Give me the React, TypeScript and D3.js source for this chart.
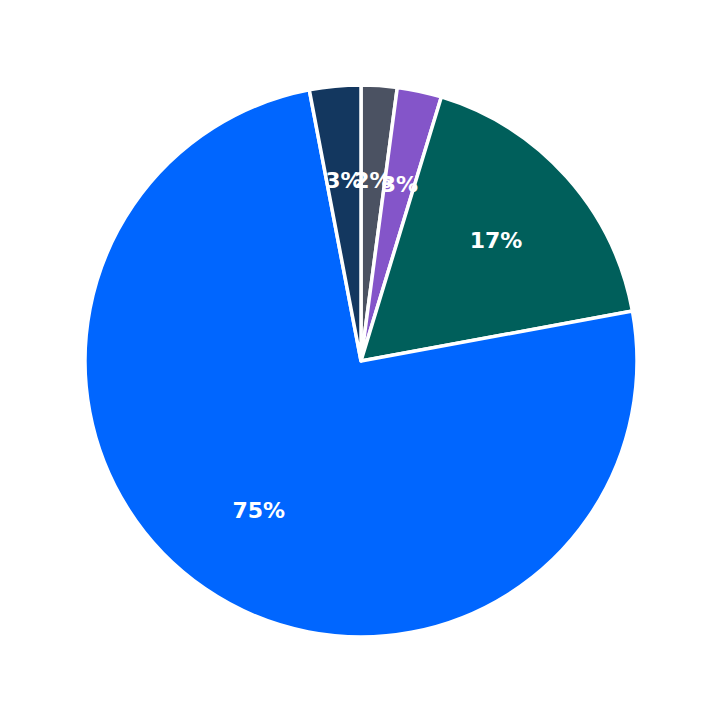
import React from 'react';
import { arc, pie, PieArcDatum } from 'd3';

const categories = ['Gray', 'Purple', 'Teal', 'Blue', 'Navy'];
const values = [2.1, 2.6, 17.4, 74.9, 3.0];
const colors = ['#4b5262', '#8455c9', '#005f5b', '#0066ff', '#13375f'];

const width = 723;
const height = 723;
const cx = 361;
const cy = 361;
const radius = 276;
const labelRadius = 181;

type Slice = { name: string; value: number; color: string };

const App = () => {
  const data: Slice[] = categories.map((name, i) => ({ name, value: values[i], color: colors[i] }));
  const total = values.reduce((a, b) => a + b, 0);

  const arcs = pie<Slice>()
    .sort(null)
    .value((d) => d.value)
    .startAngle(0)
    .endAngle(2 * Math.PI)(data);

  const slicePath = arc<PieArcDatum<Slice>>().innerRadius(0).outerRadius(radius);
  const labelArc = arc<PieArcDatum<Slice>>().innerRadius(labelRadius).outerRadius(labelRadius);

  return (
    <svg
      width={width}
      height={height}
      style={{ position: 'absolute', left: 0, top: 0, background: '#fff' }}
    >
      <g transform={`translate(${cx},${cy})`}>
        {arcs.map((a) => (
          <path key={a.data.name} d={slicePath(a) ?? ''} fill={a.data.color} stroke='#fff' strokeWidth={3.5} strokeLinejoin='round' />
        ))}
        {arcs.map((a) => {
          const [x, y] = labelArc.centroid(a);
          return (
            <text
              key={a.data.name + '-label'}
              x={x}
              y={y}
              textAnchor='middle'
              dominantBaseline='central'
              fill='#fff'
              fontFamily='DejaVu Sans'
              fontWeight='bold'
              fontSize={22}
            >
              {`${Math.round((a.data.value / total) * 100)}%`}
            </text>
          );
        })}
      </g>
    </svg>
  );
};

export default App;
